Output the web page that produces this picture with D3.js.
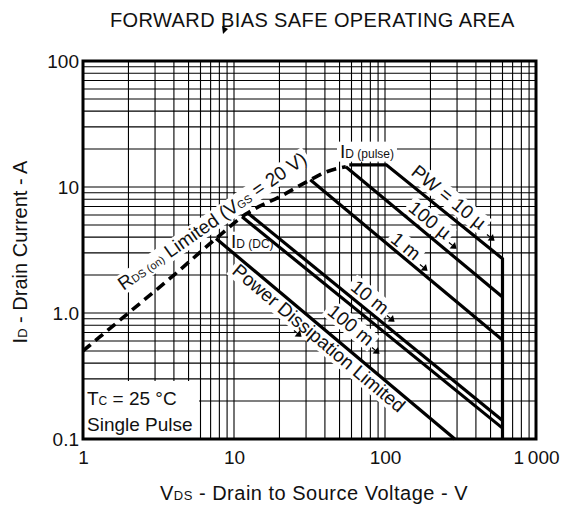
<!DOCTYPE html>
<html>
<head>
<meta charset="utf-8">
<script src="https://cdn.jsdelivr.net/npm/d3@7"></script>
<style>
  html, body { margin: 0; padding: 0; background: #fff; }
  svg { display: block; font-family: "Liberation Sans", Arial, Helvetica, sans-serif; }
</style>
</head>
<body>
<svg id="chart" width="564" height="508"></svg>
<script>
// Axis ticks
const xTicks = [1, 10, 100, 1000];
const xTickLabels = ["1", "10", "100", "1\u2009000"];
const yTicks = [0.1, 1, 10, 100];
const yTickLabels = ["0.1", "1.0", "10", "100"];

// RDS(on) limited boundary (V, A)
const rdsLimitV = [1, 2, 4, 7.6, 12, 21, 32, 41, 55];
const rdsLimitI = [0.5, 1.0, 2.0, 3.9, 6.1, 8.6, 11.4, 13.2, 14.5];

// Pulse current limit, PW = 10 us, then VDSS limit
const pw10usV = [58, 102, 600, 600];
const pw10usI = [15, 15, 2.7, 0.1];
// Other pulse widths
const pw100usV = [55, 600];
const pw100usI = [14.5, 1.34];
const pw1msV = [32, 600];
const pw1msI = [11.4, 0.61];
const pw10msV = [12.4, 600];
const pw10msI = [6.2, 0.14];
const pw100msV = [11.3, 600];
const pw100msI = [5.8, 0.122];
// DC, power dissipation limited
const dcV = [7.6, 290];
const dcI = [3.9, 0.1];

const svg = d3.select("#chart");
const pLeft = 83, pRight = 536, pTop = 61, pBottom = 439;

const x = d3.scaleLog().domain([1, 1000]).range([pLeft, pRight]);
const y = d3.scaleLog().domain([0.1, 100]).range([pBottom, pTop]);

const gGrid = svg.append("g");
const gBg = svg.append("g");
const gLines = svg.append("g");
const gText = svg.append("g");

// Grid
const gridX = [];
[1, 10, 100].forEach(d => { for (let m = 1; m <= 9; m++) { const v = d * m; if (v > 1 && v < 1000) gridX.push(v); } });
const gridY = [];
[0.1, 1, 10].forEach(d => { for (let m = 1; m <= 9; m++) { const v = +(d * m).toPrecision(3); if (v > 0.1 && v < 100) gridY.push(v); } });

gGrid.selectAll("line.gx").data(gridX).join("line")
  .attr("x1", d => x(d)).attr("x2", d => x(d))
  .attr("y1", pTop).attr("y2", pBottom)
  .attr("stroke", "#000").attr("stroke-width", 1.1);
gGrid.selectAll("line.gy").data(gridY).join("line")
  .attr("x1", pLeft).attr("x2", pRight)
  .attr("y1", d => y(d)).attr("y2", d => y(d))
  .attr("stroke", "#000").attr("stroke-width", 1.1);

// Axis tick labels
const xAxis = d3.axisBottom(x).tickValues(xTicks).tickSize(0).tickPadding(0)
  .tickFormat((d, i) => xTickLabels[i]);
const gx = svg.append("g").attr("transform", `translate(0,${pBottom})`).call(xAxis);
gx.select(".domain").remove();
gx.selectAll("text").attr("font-size", 19).attr("fill", "#111")
  .attr("y", 25).attr("dy", 0);
gx.attr("font-family", null).attr("font-size", null);

const yAxis = d3.axisLeft(y).tickValues(yTicks).tickSize(0).tickPadding(0)
  .tickFormat((d, i) => yTickLabels[i]);
const gy = svg.append("g").attr("transform", `translate(${pLeft - 4},0)`).call(yAxis);
gy.select(".domain").remove();
gy.selectAll("text").attr("font-size", 19).attr("fill", "#111")
  .attr("x", 0).attr("dy", "0.36em");
gy.attr("font-family", null).attr("font-size", null);

// Labels with white backing
function label(cx, cy, angle, parts, size, anchor = "middle") {
  const tf = `translate(${cx},${cy}) rotate(${angle})`;
  const tg = gText.append("g").attr("transform", tf);
  const t = tg.append("text").attr("text-anchor", anchor).attr("dy", "0.35em")
    .attr("font-size", size).attr("fill", "#111");
  parts.forEach(p => t.append("tspan").attr("font-size", p.sub ? p.sub : size).text(p.t));
  const b = t.node().getBBox();
  gBg.append("g").attr("transform", tf).append("rect")
    .attr("x", b.x - 3).attr("y", b.y + 1).attr("width", b.width + 6).attr("height", b.height - 1)
    .attr("fill", "#fff");
}

label(212, 221, -35, [
  { t: "R" }, { t: "DS", sub: 11 }, { t: " (on)", sub: 11 }, { t: " Limited (V" },
  { t: "GS", sub: 11 }, { t: " = 20 V)" }
], 19);
label(449, 197, 39, [{ t: "PW = 10 \u00b5" }], 19);
label(430, 220, 39, [{ t: "100 \u00b5" }], 19);
label(406, 246, 39, [{ t: "1 m" }], 19);
label(370, 297, 39, [{ t: "10 m" }], 19);
label(351, 325, 39, [{ t: "100 m" }], 19);
label(319, 338, 40, [{ t: "Power Dissipation Limited" }], 19);
label(340, 151, 0, [{ t: "I" }, { t: "D (pulse)", sub: 12 }], 19, "start");
label(231, 241, 0, [{ t: "I" }, { t: "D (DC)", sub: 12 }], 19, "start");

// Conditions box
gBg.append("rect").attr("x", pLeft + 1).attr("y", 381).attr("width", 115).attr("height", pBottom - 382)
  .attr("fill", "#fff");
const cond = gText.append("text").attr("x", 87).attr("y", 405).attr("font-size", 19).attr("fill", "#111");
cond.append("tspan").text("T");
cond.append("tspan").attr("font-size", 12).text("C");
cond.append("tspan").text(" = 25 \u00b0C");
gText.append("text").attr("x", 87).attr("y", 431).attr("font-size", 19).attr("fill", "#111").text("Single Pulse");

// Curves
const zip = (vs, is) => vs.map((v, i) => [v, is[i]]);
const line = d3.line().x(d => x(d[0])).y(d => y(d[1]));
const solid = [
  zip(pw10usV, pw10usI), zip(pw100usV, pw100usI), zip(pw1msV, pw1msI),
  zip(pw10msV, pw10msI), zip(pw100msV, pw100msI), zip(dcV, dcI)
];
gLines.selectAll("path.solid").data(solid).join("path")
  .attr("d", line).attr("fill", "none").attr("stroke", "#000")
  .attr("stroke-width", 3.2).attr("stroke-linejoin", "miter");
const curved = d3.line().x(d => x(d[0])).y(d => y(d[1])).curve(d3.curveMonotoneX);
gLines.append("path").datum(zip(rdsLimitV, rdsLimitI))
  .attr("d", curved).attr("fill", "none").attr("stroke", "#000")
  .attr("stroke-width", 3.6).attr("stroke-dasharray", "10,6");

// Small pointer arrows next to the labels
const arrowAt = [[490, 237], [452, 245], [423, 267], [390, 318], [375, 350], [297, 333]];
gText.selectAll("path.arrow").data(arrowAt).join("path")
  .attr("transform", d => `translate(${d[0]},${d[1]}) rotate(40)`)
  .attr("d", "M-4,0L1,0M1,-3L5,0L1,3Z")
  .attr("stroke", "#000").attr("stroke-width", 1.2).attr("fill", "#000");

// Frame
svg.append("rect").attr("x", pLeft).attr("y", pTop).attr("width", pRight - pLeft).attr("height", pBottom - pTop)
  .attr("fill", "none").attr("stroke", "#000").attr("stroke-width", 3);

// Title and axis titles
svg.append("text").attr("x", 110).attr("y", 27).attr("font-size", 20).attr("letter-spacing", 0.4)
  .attr("fill", "#111").text("FORWARD BIAS SAFE OPERATING AREA");
svg.append("path").attr("d", "M222,26L228,29L223,34Z").attr("fill", "#000");

const xl = svg.append("text").attr("x", 160).attr("y", 500).attr("font-size", 20)
  .attr("letter-spacing", 0.5).attr("fill", "#111");
xl.append("tspan").text("V");
xl.append("tspan").attr("font-size", 13).text("DS");
xl.append("tspan").text(" - Drain to Source Voltage - V");

const yl = svg.append("text").attr("transform", "translate(27,252) rotate(-90)")
  .attr("text-anchor", "middle").attr("font-size", 20).attr("fill", "#111");
yl.append("tspan").text("I");
yl.append("tspan").attr("font-size", 13).text("D");
yl.append("tspan").text(" - Drain Current - A");
</script>
</body>
</html>
